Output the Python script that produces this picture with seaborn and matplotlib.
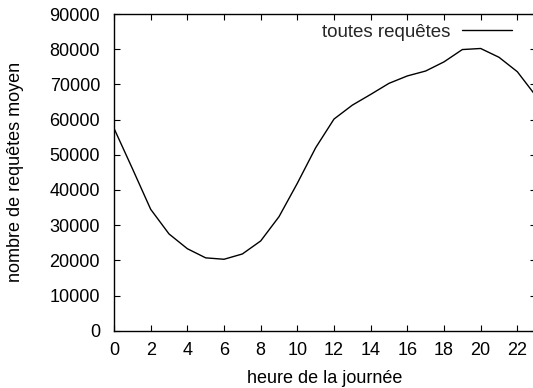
import matplotlib
matplotlib.use("Agg")
import matplotlib.pyplot as plt
import seaborn as sns
import pandas as pd

hours = list(range(24))
requetes = [57500, 46100, 34500, 27500, 23300, 20700, 20300, 21800, 25500, 32400,
            41900, 52000, 60150, 64100, 67150, 70300, 72400, 73800, 76400, 79900,
            80200, 77700, 73600, 66800]
series_name = "toutes requêtes"
xticks = list(range(0, 24, 2))
yticks = list(range(0, 90001, 10000))

sns.set_theme(style="ticks")
plt.rcParams['font.family'] = ['Liberation Sans', 'DejaVu Sans']

df = pd.DataFrame({"heure": hours, "n": requetes, "serie": series_name})

fig = plt.figure(figsize=(5.33, 3.88), dpi=100)
ax = fig.add_axes([0.2139, 0.1477, 1.005 - 0.2139, 0.9639 - 0.1477])
sns.lineplot(data=df, x="heure", y="n", hue="serie", palette=["black"],
             linewidth=1.0, ax=ax)
ax.set_xlim(0, 23)
ax.set_ylim(0, 90000)
ax.set_xticks(xticks)
ax.set_yticks(yticks)
ax.tick_params(direction="in", length=4, width=0.8, top=True, right=True,
               labelsize=13, colors="black")
ax.tick_params(axis="y", pad=10)
ax.tick_params(axis="x", pad=8)
for s in ax.spines.values():
    s.set_color("black")
    s.set_linewidth(1.0)
ax.set_xlabel("heure de la journée", fontsize=13, color="black", labelpad=8)
ax.set_ylabel("nombre de requêtes moyen", fontsize=13, color="black", labelpad=18)
leg = ax.legend(loc="center right", frameon=False, fontsize=13.5, markerfirst=False,
                handlelength=2.67, handletextpad=0.64, borderpad=0, borderaxespad=0,
                bbox_to_anchor=(0.9438, 0.943))
fig.savefig("out.png", dpi=100)
